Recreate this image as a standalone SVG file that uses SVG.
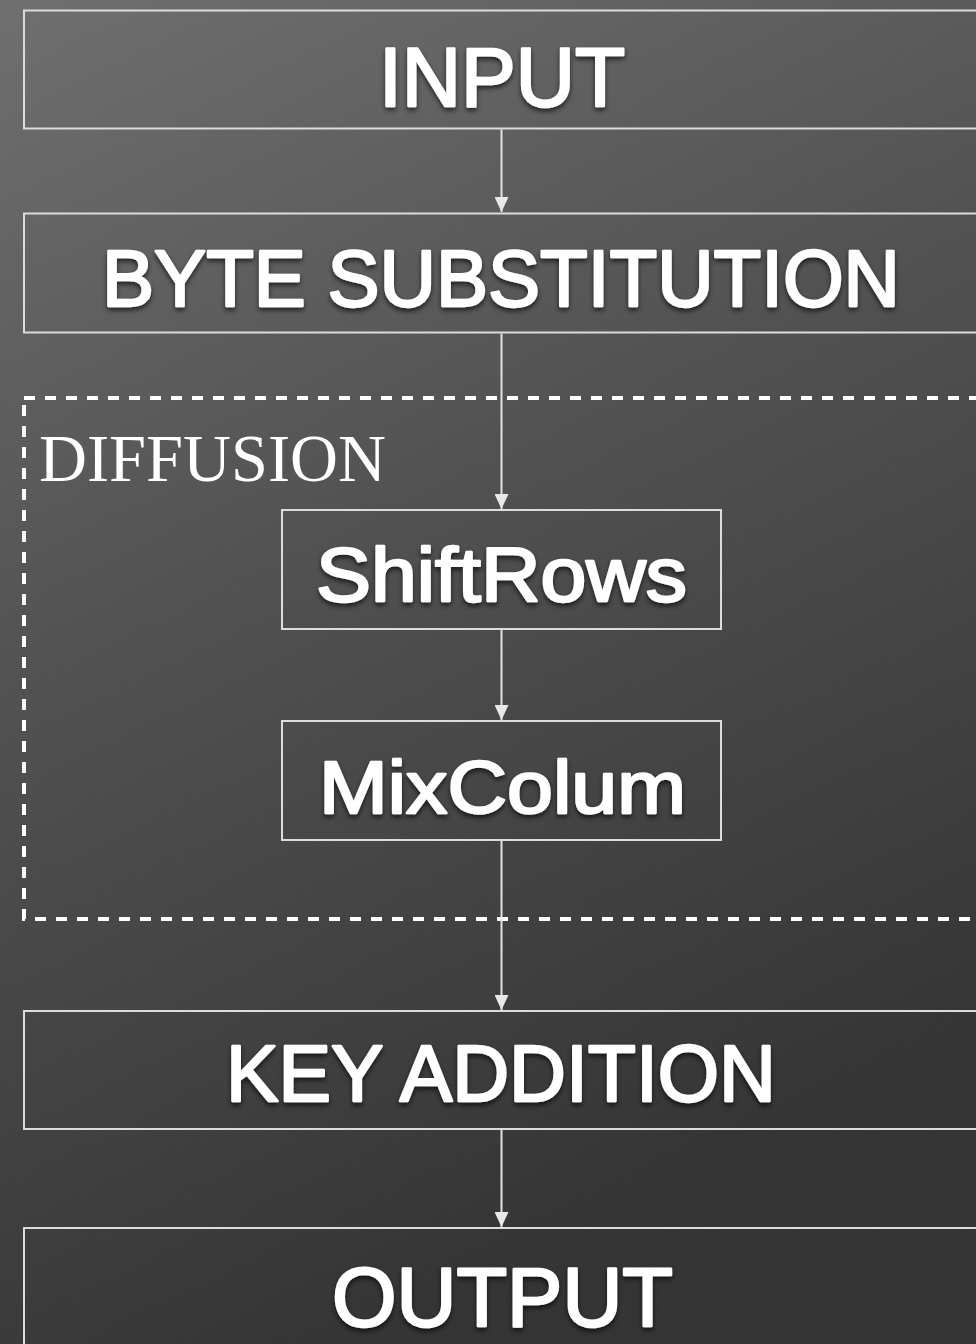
<svg xmlns="http://www.w3.org/2000/svg" width="976" height="1344" viewBox="0 0 976 1344">
  <defs>
    <linearGradient id="bg" x1="0" y1="0" x2="0.35" y2="1">
      <stop offset="0" stop-color="#6c6c6c"/>
      <stop offset="0.45" stop-color="#4e4e4e"/>
      <stop offset="1" stop-color="#2f2f2f"/>
    </linearGradient>
    <filter id="grain" x="0" y="0" width="100%" height="100%">
      <feTurbulence type="fractalNoise" baseFrequency="0.9" numOctaves="2" seed="3" result="n"/>
      <feColorMatrix in="n" type="matrix" values="0 0 0 0 0.5  0 0 0 0 0.5  0 0 0 0 0.5  0 0 0 0.08 0"/>
    </filter>
    <filter id="shadow" x="-10%" y="-30%" width="120%" height="160%">
      <feDropShadow dx="0" dy="3" stdDeviation="2.5" flood-color="#000" flood-opacity="0.65"/>
    </filter>
    <marker id="arrow" markerWidth="15" markerHeight="14" refX="15" refY="7" orient="auto" markerUnits="userSpaceOnUse" viewBox="0 0 15 14">
      <path d="M0,0 L15,7 L0,14 Z" fill="#e8e8e8"/>
    </marker>
  </defs>
  <style>
    .box { fill: none; stroke: #dcdcdc; stroke-width: 2; }
    .label { fill: #ffffff; stroke: #ffffff; stroke-width: 2.4; stroke-linejoin: round; font-family: "Liberation Sans", Arial, sans-serif; font-weight: normal; text-anchor: middle; filter: url(#shadow); }
    .group-title { fill: #ffffff; font-family: "Liberation Serif", "Times New Roman", serif; font-size: 67px; }
    .dash { fill: none; stroke: #ffffff; stroke-width: 4; stroke-dasharray: 11 10; }
    .edge { stroke: #e2e2e2; stroke-width: 2; fill: none; marker-end: url(#arrow); }
  </style>

  <!-- backdrop -->
  <rect width="976" height="1344" fill="url(#bg)"/>
  <rect width="976" height="1344" filter="url(#grain)"/>

  <!-- diffusion group frame -->
  <g id="diffusion">
    <rect class="dash" x="24" y="398" width="1000" height="521"/>
    <text class="group-title" x="39" y="481" textLength="347" lengthAdjust="spacingAndGlyphs">DIFFUSION</text>
  </g>

  <!-- connectors -->
  <g id="connectors">
    <line class="edge" x1="501.5" y1="129.5" x2="501.5" y2="212"/>
    <line class="edge" x1="501.5" y1="333.5" x2="501.5" y2="509"/>
    <line class="edge" x1="501.5" y1="630" x2="501.5" y2="720"/>
    <line class="edge" x1="501.5" y1="841" x2="501.5" y2="1010"/>
    <line class="edge" x1="501.5" y1="1130" x2="501.5" y2="1227"/>
  </g>

  <g id="input">
    <rect class="box" x="24" y="10.5" width="1000" height="118"/>
    <text class="label" x="502" y="106" font-size="83" textLength="246" lengthAdjust="spacingAndGlyphs">INPUT</text>
  </g>

  <g id="byte-substitution">
    <rect class="box" x="24" y="213.5" width="1000" height="119"/>
    <text class="label" x="501" y="306" font-size="79" textLength="798" lengthAdjust="spacingAndGlyphs">BYTE SUBSTITUTION</text>
  </g>

  <g id="shift-rows">
    <rect class="box" x="282" y="510" width="439" height="119"/>
    <text class="label" x="501.5" y="601" font-size="76" textLength="371" lengthAdjust="spacingAndGlyphs">ShiftRows</text>
  </g>

  <g id="mix-colum">
    <rect class="box" x="282" y="721" width="439" height="119"/>
    <text class="label" x="502.5" y="813" font-size="75" textLength="367" lengthAdjust="spacingAndGlyphs">MixColum</text>
  </g>

  <g id="key-addition">
    <rect class="box" x="24" y="1011" width="1000" height="118"/>
    <text class="label" x="501" y="1101" font-size="79" textLength="550" lengthAdjust="spacingAndGlyphs">KEY ADDITION</text>
  </g>

  <g id="output">
    <rect class="box" x="24" y="1228" width="1000" height="200"/>
    <text class="label" x="502.5" y="1326" font-size="83" textLength="341" lengthAdjust="spacingAndGlyphs">OUTPUT</text>
  </g>
</svg>
